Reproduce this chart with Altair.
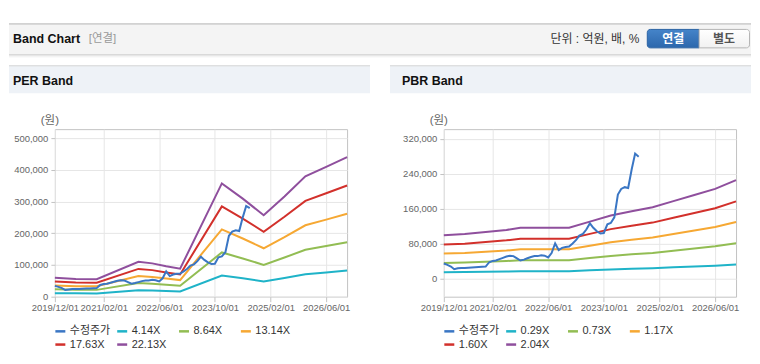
import altair as alt
import pandas as pd

# ---------------- data ----------------
stock_dates = [
    "2019/12/01", "2020/01/01", "2020/02/01", "2020/03/01", "2020/04/01", "2020/05/01",
    "2020/06/01", "2020/07/01", "2020/08/01", "2020/09/01", "2020/10/01", "2020/11/01",
    "2020/12/01", "2021/01/01", "2021/02/01", "2021/03/01", "2021/04/01", "2021/05/01",
    "2021/06/01", "2021/07/01", "2021/08/01", "2021/09/01", "2021/10/01", "2021/11/01",
    "2021/12/01", "2022/01/01", "2022/02/01", "2022/03/01", "2022/04/01", "2022/05/01",
    "2022/06/01", "2022/07/01", "2022/08/01", "2022/09/01", "2022/10/01", "2022/11/01",
    "2022/12/01", "2023/01/01", "2023/02/01", "2023/03/01", "2023/04/01", "2023/05/01",
    "2023/06/01", "2023/07/01", "2023/08/01", "2023/09/01", "2023/10/01", "2023/11/01",
    "2023/12/01", "2024/01/01", "2024/02/01", "2024/03/01", "2024/04/01", "2024/05/01",
    "2024/06/01", "2024/07/01", "2024/08/01",
]
stock_values = [
    34000, 31000, 27000, 21000, 23000, 24000,
    24000, 24500, 25000, 25500, 26000, 26500,
    27000, 37000, 40000, 41000, 44000, 47000,
    50000, 52000, 51000, 46000, 41000, 43000,
    46000, 49000, 51000, 51000, 53000, 52000,
    48000, 58000, 80000, 65000, 70000, 72000,
    73000, 80000, 88000, 98000, 102000, 112000,
    126000, 116000, 108000, 103000, 104000, 124000,
    127000, 140000, 192000, 205000, 209000, 207000,
    250000, 286000, 279000,
]

per_dates = ["2019/12/01", "2020/06/01", "2020/12/01", "2021/12/01", "2022/04/01", "2022/08/01",
             "2022/12/01", "2023/12/01", "2024/06/01", "2024/12/01", "2025/06/01", "2025/12/01",
             "2026/06/01", "2026/12/01"]
per_labels = ["수정주가", "4.14X", "8.64X", "13.14X", "17.63X", "22.13X"]
per_4_14 = [11200, 10500, 10300, 20600, 19600, 18000, 16500, 66800, 57800, 48100, 59100, 70900, 76500, 82300]
per_8_64 = [23400, 21900, 21500, 42900, 41000, 37500, 34400, 139400, 120600, 100300, 123400, 148000, 159700, 171800]
per_13_14 = [35600, 33200, 32700, 65300, 62300, 57000, 52300, 211900, 183400, 152600, 187600, 225100, 242800, 261200]
per_17_63 = [47800, 44600, 43800, 87600, 83700, 76500, 70200, 284400, 246100, 204700, 251800, 302000, 325800, 350500]
per_22_13 = [60000, 56000, 55000, 110000, 105000, 96000, 88100, 357000, 308900, 256900, 316000, 379100, 409000, 439900]

pbr_dates = ["2019/12/01", "2020/06/01", "2020/12/01", "2021/06/01", "2021/10/01", "2022/12/01",
             "2023/06/01", "2023/12/01", "2024/06/01", "2024/12/01", "2025/06/01", "2025/12/01",
             "2026/06/01", "2026/12/01"]
pbr_labels = ["수정주가", "0.29X", "0.73X", "1.17X", "1.60X", "2.04X"]
pbr_0_29 = [14100, 14400, 15100, 15800, 16500, 16500, 18500, 20500, 21900, 23200, 25200, 27200, 29100, 32000]
pbr_0_73 = [35400, 36300, 37900, 39700, 41500, 41500, 46500, 51500, 55100, 58300, 63300, 68400, 73400, 80500]
pbr_1_17 = [56800, 58200, 60800, 63700, 66500, 66500, 74600, 82600, 88300, 93500, 101500, 109500, 117600, 129000]
pbr_1_60 = [77600, 79600, 83100, 87100, 91000, 91000, 102000, 112900, 120800, 127800, 138800, 149800, 160800, 176500]
pbr_2_04 = [99000, 101500, 106000, 111000, 116000, 116000, 130000, 144000, 154000, 163000, 177000, 191000, 205000, 225000]

per_ticks = [0, 100000, 200000, 300000, 400000, 500000]
pbr_ticks = [0, 80000, 160000, 240000, 320000]
x_tick_dates = [(2019, 12), (2021, 2), (2022, 6), (2023, 10), (2025, 2), (2026, 6)]

colors = ["#3a76c4", "#1fb3c8", "#92bd53", "#f6a833", "#d2302b", "#8f4f9d"]

# ---------------- helpers ----------------
FONT = "Liberation Sans, Noto Sans CJK KR"
ONE = alt.Data(values=[{"k": 0}])


def rect(x, x2, y, y2, **kw):
    return alt.Chart(ONE).mark_rect(**kw).encode(
        x=alt.value(x), x2=alt.value(x2), y=alt.value(y), y2=alt.value(y2))


def hline(x, x2, y, color):
    return alt.Chart(ONE).mark_rule(color=color, strokeWidth=1).encode(
        x=alt.value(x), x2=alt.value(x2), y=alt.value(y))


def label(x, y, s, **kw):
    opts = dict(align="left", baseline="middle", font=FONT)
    opts.update(kw)
    return alt.Chart(ONE).mark_text(text=s, **opts).encode(x=alt.value(x), y=alt.value(y))


def long_df(dates, bands, labels):
    rows = []
    for lab, vals in zip(labels, bands):
        for d, v in zip(dates, vals):
            rows.append({"series": lab, "date": d, "value": v})
    return pd.DataFrame(rows)


W, H = 293, 168


def panel(band_dates, bands, labels, y_domain, y_ticks, decorations):
    df_b = long_df(band_dates, bands, labels[1:])
    df_s = pd.DataFrame({"series": labels[0], "date": stock_dates, "value": stock_values})
    x = alt.X("date:T",
              scale=alt.Scale(domain=[alt.DateTime(year=2019, month=12, date=1),
                                      alt.DateTime(year=2026, month=12, date=1)], nice=False),
              axis=alt.Axis(values=[alt.DateTime(year=a, month=b, date=1) for a, b in x_tick_dates],
                            format="%Y/%m/%d", title=None, labelOverlap=False, labelFlush=False,
                            domain=False, tickSize=5, tickColor="#c3c3c3", labelPadding=1,
                            gridColor="#e6e6e6"))
    y = alt.Y("value:Q",
              scale=alt.Scale(domain=y_domain, nice=False, zero=False),
              axis=alt.Axis(values=y_ticks, format=",d", title="(원)", titleAngle=0,
                            titleAlign="center", titleBaseline="middle", titleX=-5.5, titleY=-9,
                            titleFont=FONT, titleFontSize=11.5, titleFontWeight="normal",
                            titleColor="#666666", domain=False, tickSize=4, tickColor="#c3c3c3",
                            labelPadding=3, gridColor="#e6e6e6"))
    color = alt.Color("series:N",
                      scale=alt.Scale(domain=labels, range=colors),
                      legend=alt.Legend(orient="none", legendX=-1, legendY=196, direction="horizontal",
                                        columns=4, title=None, symbolType="stroke", symbolSize=100,
                                        symbolStrokeWidth=2.5, labelFont=FONT, labelFontSize=11,
                                        labelColor="#333333", labelOffset=3, columnPadding=1,
                                        rowPadding=1.5, gridAlign="all", padding=0))
    band_layer = alt.Chart(df_b).mark_line(strokeWidth=2).encode(x=x, y=y, color=color)
    stock_layer = alt.Chart(df_s).mark_line(strokeWidth=2).encode(x=x, y=y, color=color)
    return alt.layer(*decorations, band_layer, stock_layer).properties(width=W, height=H)


# left panel decorations (relative to left plot origin)
left_deco = [
    rect(-46, -45, -120, -119, fill="white"),
    rect(-46, -45, 225, 226, fill="white"),
    rect(-46, 698, -106, -75, fill="#f4f4f4"),
    hline(-46, 698, -105.5, "#b5b5b5"),
    hline(-46, 698, -74.5, "#c8c8c8"),
    hline(-46, 698, -73.5, "#e2e2e2"),
    hline(-46, 698, -72.5, "#f1f1f1"),
    label(-42, -90, "Band Chart", fontSize=12.5, fontWeight="bold", color="#111111"),
    label(34, -90, "[연결]", fontSize=11.5, color="#999999"),
    label(586, -90.5, "단위 : 억원, 배, %", fontSize=12, color="#333333", align="right"),
    rect(594, 646, -100, -81.5,
         fill=alt.LinearGradient(gradient="linear", x1=0, x2=0, y1=0, y2=1,
                                 stops=[alt.GradientStop(offset=0, color="#4584c9"),
                                        alt.GradientStop(offset=1, color="#2c67ac")]),
         stroke="#2a62a3", strokeWidth=1, cornerRadiusTopLeft=3, cornerRadiusBottomLeft=3),
    label(620, -90.5, "연결", fontSize=12, fontWeight="bold", color="white", align="center"),
    rect(646, 696.5, -100, -81.5,
         fill=alt.LinearGradient(gradient="linear", x1=0, x2=0, y1=0, y2=1,
                                 stops=[alt.GradientStop(offset=0, color="#ffffff"),
                                        alt.GradientStop(offset=1, color="#f1f1f1")]),
         stroke="#b5b5b5", strokeWidth=1, cornerRadiusTopRight=3, cornerRadiusBottomRight=3),
    label(671, -90.5, "별도", fontSize=12, fontWeight="bold", color="#555555", align="center"),
    rect(-46, 316, -64, -36, fill="#eef2f7"),
    hline(-46, 316, -63.5, "#d6d6d6"),
    label(-42, -48, "PER Band", fontSize=12.5, fontWeight="bold", color="#111111"),
]

right_deco = [
    rect(-54, 308, -64, -36, fill="#eef2f7"),
    hline(-54, 308, -63.5, "#d6d6d6"),
    label(-42, -48, "PBR Band", fontSize=12.5, fontWeight="bold", color="#111111"),
]

left = panel(per_dates, [per_4_14, per_8_64, per_13_14, per_17_63, per_22_13], per_labels,
             [0, 528000], per_ticks, left_deco)
right = panel(pbr_dates, [pbr_0_29, pbr_0_73, pbr_1_17, pbr_1_60, pbr_2_04], pbr_labels,
              [-42000, 342000], pbr_ticks, right_deco)

chart = alt.hconcat(left, right, spacing=97, bounds="flush").resolve_scale(
    color="independent").resolve_legend(color="independent").properties(
    padding=0, background="white").configure_view(stroke="#c3c3c3", strokeWidth=1).configure_axis(
    labelFont="Liberation Sans", labelFontSize=9.5, labelColor="#666666")

chart.save("out.html", embed_options={"renderer": "svg", "actions": False})
